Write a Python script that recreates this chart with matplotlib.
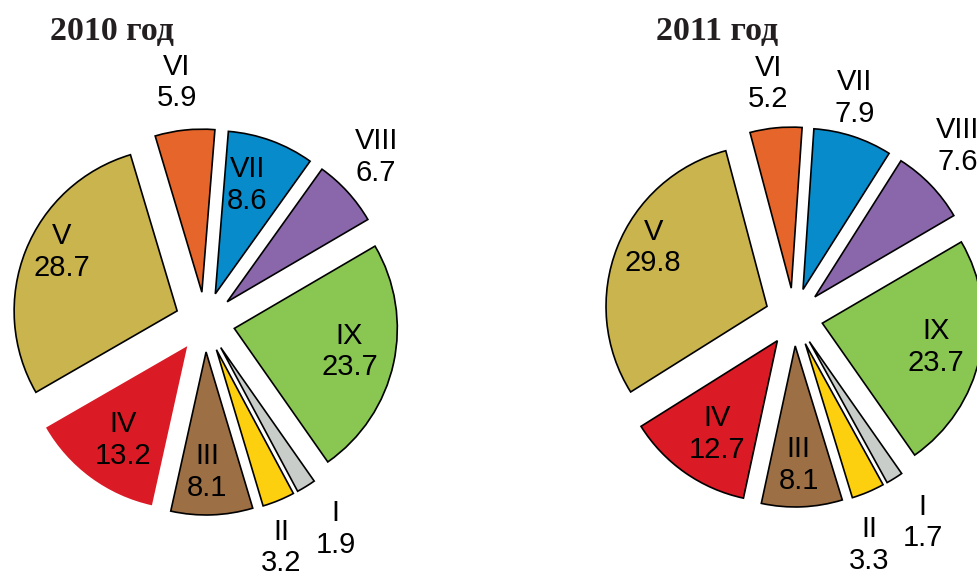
import numpy as np
import matplotlib
matplotlib.use("Agg")
import matplotlib.pyplot as plt

# ---- data ----
categories = ["I", "II", "III", "IV", "V", "VI", "VII", "VIII", "IX"]
values_2010 = [1.9, 3.2, 8.1, 13.2, 28.7, 5.9, 8.6, 6.7, 23.7]
values_2011 = [1.7, 3.3, 8.1, 12.7, 29.8, 5.2, 7.9, 7.6, 23.7]
titles = ["2010 год", "2011 год"]

# ---- style ----
colors = ["#C8CDCA", "#FDD00F", "#9D6F44", "#DA1A24", "#C9B44D",
          "#E5652A", "#078BCB", "#8A67AB", "#8AC652"]
W, H = 977, 576
fig = plt.figure(figsize=(W / 100, H / 100), dpi=100)
ax = fig.add_axes([0, 0, 1, 1])

pies = [
    dict(values=values_2010, center=(205, H - 322), radius=163, explode=30,
         lab_r=[1.50, 1.46, 0.92, 0.88, 0.98, 1.48, 0.88, 1.46, 0.905],
         lab_da=[0.7, -3.8, -1.3, 1.5, -4.3, 0.7, 2.9, 1.6, 0.8],
         no_edge=[3], title_xy=(112, H - 40)),
    dict(values=values_2011, center=(794, H - 317), radius=161, explode=29,
         lab_r=[1.505, 1.49, 0.92, 0.87, 0.975, 1.46, 1.41, 1.47, 0.90],
         lab_da=[0.1, -4.7, -0.7, 1.7, -4.8, 0.85, 2.7, 2.2, 0.3],
         no_edge=[], title_xy=(717, H - 40)),
]

for p, title in zip(pies, titles):
    cx, cy = p["center"]
    R = p["radius"]
    wedges, _ = ax.pie(p["values"], explode=[p["explode"]] * len(p["values"]),
                       colors=colors, startangle=-55, counterclock=False,
                       radius=R, center=(cx, cy), frame=True,
                       wedgeprops=dict(edgecolor="black", linewidth=1.2,
                                       joinstyle="miter"))
    for i in p["no_edge"]:
        wedges[i].set_edgecolor("none")
    for i, (w, cat, val) in enumerate(zip(wedges, categories, p["values"])):
        mid = np.deg2rad((w.theta1 + w.theta2) / 2 + p["lab_da"][i])
        r = p["lab_r"][i] * R
        ax.text(cx + r * np.cos(mid), cy + r * np.sin(mid), f"{cat}\n{val}",
                ha="center", va="center", fontsize=21, linespacing=1.17,
                family=["Liberation Sans", "DejaVu Sans"], color="black")
    ax.text(p["title_xy"][0], p["title_xy"][1], title, ha="center",
            va="baseline", fontsize=24.5, fontweight="bold",
            family=["Liberation Serif", "DejaVu Serif"], color="#231F20")

ax.set_xlim(0, W)
ax.set_ylim(0, H)
ax.set_aspect("equal")
ax.axis("off")
fig.savefig("out.png", dpi=100)
